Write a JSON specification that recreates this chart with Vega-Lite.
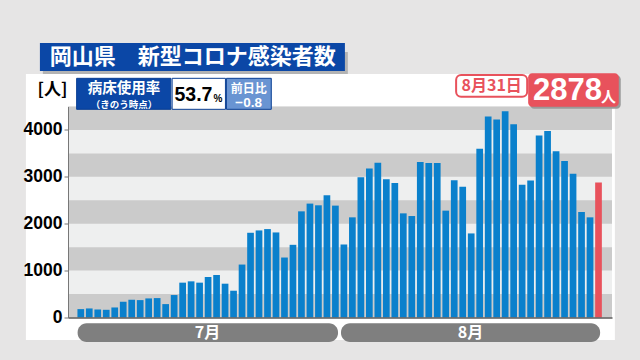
{
  "$schema": "https://vega.github.io/schema/vega-lite/v6.json",
  "width": 544,
  "height": 211,
  "autosize": {"type": "none"},
  "padding": {"left": 68, "top": 106.5, "right": 28, "bottom": 42.5},
  "background": "#e6e5e5",
  "config": {"view": {"stroke": null}, "text": {"font": "Noto Sans CJK JP"}},
  "layer": [
    {
      "data": {"values": [{"x": "2022-06-24T12:49:00Z", "x2": "2022-09-01T22:15:00Z", "y": 5193, "y2": -480}]},
      "mark": {"type": "rect", "color": "#ffffff"},
      "encoding": {
        "x": {"field": "x", "type": "temporal", "scale": {"type": "utc", "domain": [{"year": 2022, "month": 6, "date": 30, "hours": 2, "utc": true}, {"year": 2022, "month": 9, "date": 1, "utc": true}]},
          "axis": {"labels": false, "ticks": false, "grid": false, "title": null, "domainColor": "#5a5a5a", "domainWidth": 1.5, "zindex": 1}},
        "x2": {"field": "x2"},
        "y": {"field": "y", "type": "quantitative", "scale": {"domain": [0, 4500], "nice": false},
          "axis": {"title": null, "grid": false, "values": [0, 500, 1000, 1500, 2000, 2500, 3000, 3500, 4000, 4500],
            "labelExpr": "datum.value % 1000 === 0 ? format(datum.value, 'd') : ''",
            "labelFont": "Liberation Sans", "labelFontWeight": "bold", "labelFontSize": 17.5, "labelColor": "#000000",
            "labelPadding": 2, "tickSize": 4, "tickColor": "#777777", "domainColor": "#777777", "domainWidth": 1, "zindex": 1}},
        "y2": {"field": "y2"}
      }
    },
    {
      "data": {"values": [{"x": "2022-06-26T12:46:00Z", "x2": "2022-08-01T11:11:00Z", "y": 5662, "y2": 5193}]},
      "mark": {"type": "rect", "color": "#b3b3b3"},
      "encoding": {
        "x": {"field": "x", "type": "temporal", "scale": {"type": "utc", "domain": [{"year": 2022, "month": 6, "date": 30, "hours": 2, "utc": true}, {"year": 2022, "month": 9, "date": 1, "utc": true}]}},
        "x2": {"field": "x2"},
        "y": {"field": "y", "type": "quantitative", "scale": {"domain": [0, 4500], "nice": false}},
        "y2": {"field": "y2"}
      }
    },
    {
      "data": {"values": [{"x": "2022-06-26T04:26:00Z", "x2": "2022-08-01T02:53:00Z", "y": 5854, "y2": 5257}]},
      "mark": {"type": "rect", "color": "#0b47a6"},
      "encoding": {
        "x": {"field": "x", "type": "temporal", "scale": {"type": "utc", "domain": [{"year": 2022, "month": 6, "date": 30, "hours": 2, "utc": true}, {"year": 2022, "month": 9, "date": 1, "utc": true}]}},
        "x2": {"field": "x2"},
        "y": {"field": "y", "type": "quantitative", "scale": {"domain": [0, 4500], "nice": false}},
        "y2": {"field": "y2"}
      }
    },
    {
      "data": {"values": [{"x": "2022-07-14T04:38:00Z", "y": 5556, "label": "岡山県　新型コロナ感染者数"}]},
      "mark": {"type": "text", "color": "#ffffff", "fontSize": 22, "fontWeight": "bold", "align": "center", "baseline": "middle"},
      "encoding": {
        "x": {"field": "x", "type": "temporal", "scale": {"type": "utc", "domain": [{"year": 2022, "month": 6, "date": 30, "hours": 2, "utc": true}, {"year": 2022, "month": 9, "date": 1, "utc": true}]}},
        "y": {"field": "y", "type": "quantitative", "scale": {"domain": [0, 4500], "nice": false}},
        "text": {"field": "label"}
      }
    },
    {
      "data": {"values": [{"lo": 0, "hi": 4500}]},
      "mark": {"type": "rect", "color": "#eeefef"},
      "encoding": {
        "y": {"field": "lo", "type": "quantitative", "scale": {"domain": [0, 4500], "nice": false}},
        "y2": {"field": "hi"}
      }
    },
    {
      "data": {"values": [{"lo": 0, "hi": 500}, {"lo": 1000, "hi": 1500}, {"lo": 2000, "hi": 2500}, {"lo": 3000, "hi": 3500}, {"lo": 4000, "hi": 4500}]},
      "mark": {"type": "rect", "color": "#cbcbcb"},
      "encoding": {
        "y": {"field": "lo", "type": "quantitative", "scale": {"domain": [0, 4500], "nice": false}},
        "y2": {"field": "hi"}
      }
    },
    {
      "data": {"values": [
        {"date": "2022-07-01", "cases": 179}, {"date": "2022-07-02", "cases": 193}, {"date": "2022-07-03", "cases": 171}, {"date": "2022-07-04", "cases": 164},
        {"date": "2022-07-05", "cases": 214}, {"date": "2022-07-06", "cases": 336}, {"date": "2022-07-07", "cases": 379}, {"date": "2022-07-08", "cases": 371},
        {"date": "2022-07-09", "cases": 407}, {"date": "2022-07-10", "cases": 414}, {"date": "2022-07-11", "cases": 286}, {"date": "2022-07-12", "cases": 479},
        {"date": "2022-07-13", "cases": 743}, {"date": "2022-07-14", "cases": 771}, {"date": "2022-07-15", "cases": 743}, {"date": "2022-07-16", "cases": 864},
        {"date": "2022-07-17", "cases": 907}, {"date": "2022-07-18", "cases": 721}, {"date": "2022-07-19", "cases": 571}, {"date": "2022-07-20", "cases": 1129},
        {"date": "2022-07-21", "cases": 1807}, {"date": "2022-07-22", "cases": 1857}, {"date": "2022-07-23", "cases": 1886}, {"date": "2022-07-24", "cases": 1814},
        {"date": "2022-07-25", "cases": 1279}, {"date": "2022-07-26", "cases": 1550}, {"date": "2022-07-27", "cases": 2264}, {"date": "2022-07-28", "cases": 2429},
        {"date": "2022-07-29", "cases": 2393}, {"date": "2022-07-30", "cases": 2607}, {"date": "2022-07-31", "cases": 2386},
        {"date": "2022-08-01", "cases": 1557}, {"date": "2022-08-02", "cases": 2136}, {"date": "2022-08-03", "cases": 2993}, {"date": "2022-08-04", "cases": 3179},
        {"date": "2022-08-05", "cases": 3300}, {"date": "2022-08-06", "cases": 2950}, {"date": "2022-08-07", "cases": 2871}, {"date": "2022-08-08", "cases": 2221},
        {"date": "2022-08-09", "cases": 2164}, {"date": "2022-08-10", "cases": 3314}, {"date": "2022-08-11", "cases": 3293}, {"date": "2022-08-12", "cases": 3293},
        {"date": "2022-08-13", "cases": 2279}, {"date": "2022-08-14", "cases": 2929}, {"date": "2022-08-15", "cases": 2786}, {"date": "2022-08-16", "cases": 1793},
        {"date": "2022-08-17", "cases": 3600}, {"date": "2022-08-18", "cases": 4286}, {"date": "2022-08-19", "cases": 4221}, {"date": "2022-08-20", "cases": 4400},
        {"date": "2022-08-21", "cases": 4121}, {"date": "2022-08-22", "cases": 2829}, {"date": "2022-08-23", "cases": 2921}, {"date": "2022-08-24", "cases": 3879},
        {"date": "2022-08-25", "cases": 3979}, {"date": "2022-08-26", "cases": 3543}, {"date": "2022-08-27", "cases": 3336}, {"date": "2022-08-28", "cases": 3064},
        {"date": "2022-08-29", "cases": 2250}, {"date": "2022-08-30", "cases": 2136}, {"date": "2022-08-31", "cases": 2878}
      ]},
      "mark": {"type": "bar", "width": 6.7},
      "encoding": {
        "x": {"field": "date", "type": "temporal", "scale": {"type": "utc", "domain": [{"year": 2022, "month": 6, "date": 30, "hours": 2, "utc": true}, {"year": 2022, "month": 9, "date": 1, "utc": true}]}},
        "y": {"field": "cases", "type": "quantitative", "scale": {"domain": [0, 4500], "nice": false}},
        "color": {"condition": {"test": "datum.cases === 2878", "value": "#e8525c"}, "value": "#0a80cc"}
      }
    },
    {
      "data": {"values": [{"x": "2022-06-27T15:42:00Z", "y": 4852, "label": "[人]"}]},
      "mark": {"type": "text", "color": "#000000", "fontSize": 17, "fontWeight": "bold", "align": "center", "baseline": "middle"},
      "encoding": {
        "x": {"field": "x", "type": "temporal", "scale": {"type": "utc", "domain": [{"year": 2022, "month": 6, "date": 30, "hours": 2, "utc": true}, {"year": 2022, "month": 9, "date": 1, "utc": true}]}},
        "y": {"field": "y", "type": "quantitative", "scale": {"domain": [0, 4500], "nice": false}},
        "text": {"field": "label"}
      }
    },
    {
      "data": {"values": [
        {"x": "2022-06-30T12:16:00Z", "x2": "2022-07-11T14:44:00Z", "y": 5101, "y2": 4440, "box": "rate"},
        {"x": "2022-07-11T18:20:00Z", "x2": "2022-07-18T01:03:00Z", "y": 5101, "y2": 4440, "box": "value"},
        {"x": "2022-07-18T03:50:00Z", "x2": "2022-07-23T10:41:00Z", "y": 5101, "y2": 4440, "box": "change"}
      ]},
      "mark": {"type": "rect", "stroke": "#0a3f94", "strokeWidth": 1},
      "encoding": {
        "x": {"field": "x", "type": "temporal", "scale": {"type": "utc", "domain": [{"year": 2022, "month": 6, "date": 30, "hours": 2, "utc": true}, {"year": 2022, "month": 9, "date": 1, "utc": true}]}},
        "x2": {"field": "x2"},
        "y": {"field": "y", "type": "quantitative", "scale": {"domain": [0, 4500], "nice": false}},
        "y2": {"field": "y2"},
        "fill": {"field": "box", "type": "nominal", "scale": {"domain": ["rate", "value", "change"], "range": ["#0b47a6", "#ffffff", "#6994d2"]}, "legend": null}
      }
    },
    {
      "data": {"values": [{"x": "2022-07-06T02:20:00Z", "y": 4873, "label": "病床使用率"}]},
      "mark": {"type": "text", "color": "#ffffff", "fontSize": 14.5, "fontWeight": "bold", "align": "center", "baseline": "middle"},
      "encoding": {
        "x": {"field": "x", "type": "temporal", "scale": {"type": "utc", "domain": [{"year": 2022, "month": 6, "date": 30, "hours": 2, "utc": true}, {"year": 2022, "month": 9, "date": 1, "utc": true}]}},
        "y": {"field": "y", "type": "quantitative", "scale": {"domain": [0, 4500], "nice": false}},
        "text": {"field": "label"}
      }
    },
    {
      "data": {"values": [{"x": "2022-07-06T02:20:00Z", "y": 4536, "label": "（きのう時点）"}]},
      "mark": {"type": "text", "color": "#ffffff", "fontSize": 9.5, "fontWeight": "bold", "align": "center", "baseline": "middle"},
      "encoding": {
        "x": {"field": "x", "type": "temporal", "scale": {"type": "utc", "domain": [{"year": 2022, "month": 6, "date": 30, "hours": 2, "utc": true}, {"year": 2022, "month": 9, "date": 1, "utc": true}]}},
        "y": {"field": "y", "type": "quantitative", "scale": {"domain": [0, 4500], "nice": false}},
        "text": {"field": "label"}
      }
    },
    {
      "data": {"values": [{"x": "2022-07-20T18:50:00Z", "y": 4874, "label": "前日比"}]},
      "mark": {"type": "text", "color": "#ffffff", "fontSize": 12, "fontWeight": "bold", "align": "center", "baseline": "middle"},
      "encoding": {
        "x": {"field": "x", "type": "temporal", "scale": {"type": "utc", "domain": [{"year": 2022, "month": 6, "date": 30, "hours": 2, "utc": true}, {"year": 2022, "month": 9, "date": 1, "utc": true}]}},
        "y": {"field": "y", "type": "quantitative", "scale": {"domain": [0, 4500], "nice": false}},
        "text": {"field": "label"}
      }
    },
    {
      "data": {"values": [{"x": "2022-07-20T18:50:00Z", "y": 4575, "label": "−0.8"}]},
      "mark": {"type": "text", "color": "#ffffff", "font": "Liberation Sans", "fontSize": 13.5, "fontWeight": "bold", "align": "center", "baseline": "middle"},
      "encoding": {
        "x": {"field": "x", "type": "temporal", "scale": {"type": "utc", "domain": [{"year": 2022, "month": 6, "date": 30, "hours": 2, "utc": true}, {"year": 2022, "month": 9, "date": 1, "utc": true}]}},
        "y": {"field": "y", "type": "quantitative", "scale": {"domain": [0, 4500], "nice": false}},
        "text": {"field": "label"}
      }
    },
    {
      "data": {"values": [{"x": "2022-07-16T12:10:00Z", "y": 4745, "label": "53.7"}]},
      "mark": {"type": "text", "color": "#000000", "font": "Liberation Sans", "fontSize": 19.5, "fontWeight": "bold", "align": "right", "baseline": "middle"},
      "encoding": {
        "x": {"field": "x", "type": "temporal", "scale": {"type": "utc", "domain": [{"year": 2022, "month": 6, "date": 30, "hours": 2, "utc": true}, {"year": 2022, "month": 9, "date": 1, "utc": true}]}},
        "y": {"field": "y", "type": "quantitative", "scale": {"domain": [0, 4500], "nice": false}},
        "text": {"field": "label"}
      }
    },
    {
      "data": {"values": [{"x": "2022-07-16T14:57:00Z", "y": 4660, "label": "%"}]},
      "mark": {"type": "text", "color": "#000000", "font": "Liberation Sans", "fontSize": 10, "fontWeight": "bold", "align": "left", "baseline": "middle"},
      "encoding": {
        "x": {"field": "x", "type": "temporal", "scale": {"type": "utc", "domain": [{"year": 2022, "month": 6, "date": 30, "hours": 2, "utc": true}, {"year": 2022, "month": 9, "date": 1, "utc": true}]}},
        "y": {"field": "y", "type": "quantitative", "scale": {"domain": [0, 4500], "nice": false}},
        "text": {"field": "label"}
      }
    },
    {
      "data": {"values": [{"x": "2022-08-14T05:21:00Z", "x2": "2022-08-22T14:18:00Z", "y": 5172, "y2": 4709}]},
      "mark": {"type": "rect", "fill": "#ffffff", "stroke": "#e8525c", "strokeWidth": 2, "cornerRadius": 5},
      "encoding": {
        "x": {"field": "x", "type": "temporal", "scale": {"type": "utc", "domain": [{"year": 2022, "month": 6, "date": 30, "hours": 2, "utc": true}, {"year": 2022, "month": 9, "date": 1, "utc": true}]}},
        "x2": {"field": "x2"},
        "y": {"field": "y", "type": "quantitative", "scale": {"domain": [0, 4500], "nice": false}},
        "y2": {"field": "y2"}
      }
    },
    {
      "data": {"values": [{"x": "2022-08-18T09:50:00Z", "y": 4937, "label": "8月31日"}]},
      "mark": {"type": "text", "color": "#e8525c", "fontSize": 16, "fontWeight": "bold", "align": "center", "baseline": "middle"},
      "encoding": {
        "x": {"field": "x", "type": "temporal", "scale": {"type": "utc", "domain": [{"year": 2022, "month": 6, "date": 30, "hours": 2, "utc": true}, {"year": 2022, "month": 9, "date": 1, "utc": true}]}},
        "y": {"field": "y", "type": "quantitative", "scale": {"domain": [0, 4500], "nice": false}},
        "text": {"field": "label"}
      }
    },
    {
      "data": {"values": [{"x": "2022-08-22T22:37:00Z", "x2": "2022-09-02T14:49:00Z", "y": 5165, "y2": 4453}]},
      "mark": {"type": "rect", "color": "#9a9a9a", "cornerRadius": 4},
      "encoding": {
        "x": {"field": "x", "type": "temporal", "scale": {"type": "utc", "domain": [{"year": 2022, "month": 6, "date": 30, "hours": 2, "utc": true}, {"year": 2022, "month": 9, "date": 1, "utc": true}]}},
        "x2": {"field": "x2"},
        "y": {"field": "y", "type": "quantitative", "scale": {"domain": [0, 4500], "nice": false}},
        "y2": {"field": "y2"}
      }
    },
    {
      "data": {"values": [{"x": "2022-08-22T17:04:00Z", "x2": "2022-09-02T09:16:00Z", "y": 5208, "y2": 4496}]},
      "mark": {"type": "rect", "color": "#e8525c", "cornerRadius": 4},
      "encoding": {
        "x": {"field": "x", "type": "temporal", "scale": {"type": "utc", "domain": [{"year": 2022, "month": 6, "date": 30, "hours": 2, "utc": true}, {"year": 2022, "month": 9, "date": 1, "utc": true}]}},
        "x2": {"field": "x2"},
        "y": {"field": "y", "type": "quantitative", "scale": {"domain": [0, 4500], "nice": false}},
        "y2": {"field": "y2"}
      }
    },
    {
      "data": {"values": [{"x": "2022-08-27T08:01:00Z", "y": 4841, "label": "2878"}]},
      "mark": {"type": "text", "color": "#ffffff", "font": "Liberation Sans", "fontSize": 31, "fontWeight": "bold", "align": "center", "baseline": "middle"},
      "encoding": {
        "x": {"field": "x", "type": "temporal", "scale": {"type": "utc", "domain": [{"year": 2022, "month": 6, "date": 30, "hours": 2, "utc": true}, {"year": 2022, "month": 9, "date": 1, "utc": true}]}},
        "y": {"field": "y", "type": "quantitative", "scale": {"domain": [0, 4500], "nice": false}},
        "text": {"field": "label"}
      }
    },
    {
      "data": {"values": [{"x": "2022-09-01T04:08:00Z", "y": 4713, "label": "人"}]},
      "mark": {"type": "text", "color": "#ffffff", "fontSize": 15, "fontWeight": "bold", "align": "center", "baseline": "middle"},
      "encoding": {
        "x": {"field": "x", "type": "temporal", "scale": {"type": "utc", "domain": [{"year": 2022, "month": 6, "date": 30, "hours": 2, "utc": true}, {"year": 2022, "month": 9, "date": 1, "utc": true}]}},
        "y": {"field": "y", "type": "quantitative", "scale": {"domain": [0, 4500], "nice": false}},
        "text": {"field": "label"}
      }
    },
    {
      "data": {"values": [
        {"x": "2022-06-30T15:01:00Z", "x2": "2022-07-31T07:26:00Z", "y": -124, "y2": -522},
        {"x": "2022-07-31T15:46:00Z", "x2": "2022-08-31T04:33:00Z", "y": -124, "y2": -522}
      ]},
      "mark": {"type": "rect", "color": "#7f7f7f", "cornerRadius": 9},
      "encoding": {
        "x": {"field": "x", "type": "temporal", "scale": {"type": "utc", "domain": [{"year": 2022, "month": 6, "date": 30, "hours": 2, "utc": true}, {"year": 2022, "month": 9, "date": 1, "utc": true}]}},
        "x2": {"field": "x2"},
        "y": {"field": "y", "type": "quantitative", "scale": {"domain": [0, 4500], "nice": false}},
        "y2": {"field": "y2"}
      }
    },
    {
      "data": {"values": [
        {"x": "2022-07-15T22:16:00Z", "y": -331, "label": "7月"},
        {"x": "2022-08-15T22:09:00Z", "y": -331, "label": "8月"}
      ]},
      "mark": {"type": "text", "color": "#ffffff", "fontSize": 16, "fontWeight": "bold", "align": "center", "baseline": "middle"},
      "encoding": {
        "x": {"field": "x", "type": "temporal", "scale": {"type": "utc", "domain": [{"year": 2022, "month": 6, "date": 30, "hours": 2, "utc": true}, {"year": 2022, "month": 9, "date": 1, "utc": true}]}},
        "y": {"field": "y", "type": "quantitative", "scale": {"domain": [0, 4500], "nice": false}},
        "text": {"field": "label"}
      }
    }
  ]
}
